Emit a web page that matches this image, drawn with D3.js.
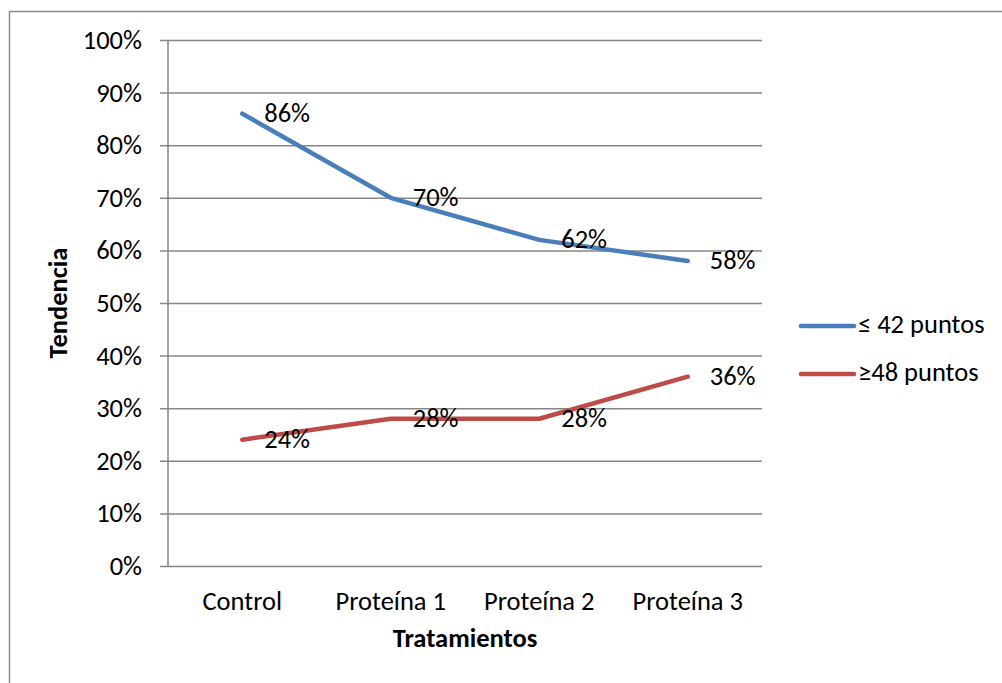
<!DOCTYPE html>
<html>
<head>
<meta charset="utf-8">
<script src="https://cdn.jsdelivr.net/npm/d3@7"></script>
<style>
  html, body { margin: 0; padding: 0; background: #fff; }
  svg { display: block; font-family: Carlito, Calibri, Lato, sans-serif; }
</style>
</head>
<body>
<svg id="chart" width="1002" height="683"></svg>
<script>
// Treatments on the x axis
const categories = ["Control", "Proteína 1", "Proteína 2", "Proteína 3"];
// Share of subjects per score group
const seriesNames = ["≤ 42 puntos", "≥48 puntos"];
const lowScores = [0.86, 0.70, 0.62, 0.58];
const highScores = [0.24, 0.28, 0.28, 0.36];
const seriesColors = ["#4A7EBB", "#BE4B48"];
const yTicks = [0, 0.1, 0.2, 0.3, 0.4, 0.5, 0.6, 0.7, 0.8, 0.9, 1.0];

const series = [
  { name: seriesNames[0], values: lowScores, color: seriesColors[0] },
  { name: seriesNames[1], values: highScores, color: seriesColors[1] }
];

const svg = d3.select("#chart");
const plot = { left: 168, right: 762, top: 40, bottom: 566 };
const fontSize = 26.5;

// Outer chart frame (runs off the right and bottom edges)
svg.append("path")
  .attr("d", "M9.5,683 L9.5,11.5 L1002,11.5")
  .attr("fill", "none")
  .attr("stroke", "#8c8c8c")
  .attr("stroke-width", 1.5);

const x = d3.scaleBand().domain(categories).range([plot.left, plot.right]).padding(0);
const y = d3.scaleLinear().domain([0, 1]).range([plot.bottom, plot.top]);
const cx = c => x(c) + x.bandwidth() / 2;
const pct = d3.format(".0%");

// Value axis with horizontal gridlines
const yAxis = d3.axisLeft(y)
  .tickValues(yTicks)
  .tickFormat(pct)
  .tickSize(-(plot.right - plot.left))
  .tickSizeOuter(0)
  .tickPadding(26);

const gy = svg.append("g")
  .attr("transform", `translate(${plot.left},0)`)
  .call(yAxis);
gy.select(".domain").remove();
gy.selectAll(".tick line")
  .attr("x1", -8)
  .attr("stroke", "#868686")
  .attr("stroke-width", 1.5);
gy.selectAll(".tick text")
  .attr("font-size", fontSize)
  .attr("fill", "#000")
  .style("font-family", "Carlito, Calibri, Lato, sans-serif");

// Vertical axis line
svg.append("line")
  .attr("x1", plot.left).attr("x2", plot.left)
  .attr("y1", plot.top).attr("y2", plot.bottom)
  .attr("stroke", "#868686")
  .attr("stroke-width", 1.5);

// Category axis labels
const xAxis = d3.axisBottom(x).tickSize(0).tickPadding(25);
const gx = svg.append("g")
  .attr("transform", `translate(0,${plot.bottom})`)
  .call(xAxis);
gx.select(".domain").remove();
gx.selectAll(".tick text")
  .attr("font-size", fontSize)
  .attr("fill", "#000")
  .style("font-family", "Carlito, Calibri, Lato, sans-serif");

// Axis titles
svg.append("text")
  .attr("x", (plot.left + plot.right) / 2)
  .attr("y", 641)
  .attr("text-anchor", "middle")
  .attr("dominant-baseline", "middle")
  .attr("font-size", fontSize)
  .attr("font-weight", "bold")
  .text("Tratamientos");

svg.append("text")
  .attr("transform", `translate(61,${(plot.top + plot.bottom) / 2}) rotate(-90)`)
  .attr("text-anchor", "middle")
  .attr("dominant-baseline", "middle")
  .attr("font-size", fontSize)
  .attr("font-weight", "bold")
  .text("Tendencia");

// Series lines
const line = d3.line()
  .x((d, i) => cx(categories[i]))
  .y(d => y(d));

series.forEach(s => {
  svg.append("path")
    .datum(s.values)
    .attr("d", line)
    .attr("fill", "none")
    .attr("stroke", s.color)
    .attr("stroke-width", 4.5)
    .attr("stroke-linecap", "round")
    .attr("stroke-linejoin", "round");
});

// Data labels to the right of each point
series.forEach(s => {
  svg.append("g").selectAll("text")
    .data(s.values)
    .join("text")
    .attr("x", (d, i) => cx(categories[i]) + 22)
    .attr("y", d => y(d) + 2)
    .attr("dominant-baseline", "middle")
    .attr("font-size", fontSize)
    .attr("fill", "#000")
    .text(d => pct(d));
});

// Legend
const legend = svg.append("g");
series.forEach((s, i) => {
  const ly = 326 + i * 48;
  legend.append("line")
    .attr("x1", 801).attr("x2", 854)
    .attr("y1", ly).attr("y2", ly)
    .attr("stroke", s.color)
    .attr("stroke-width", 4.5)
    .attr("stroke-linecap", "round");
  legend.append("text")
    .attr("x", 858)
    .attr("y", ly + 1)
    .attr("dominant-baseline", "middle")
    .attr("font-size", fontSize)
    .attr("fill", "#000")
    .text(s.name);
});
</script>
</body>
</html>
